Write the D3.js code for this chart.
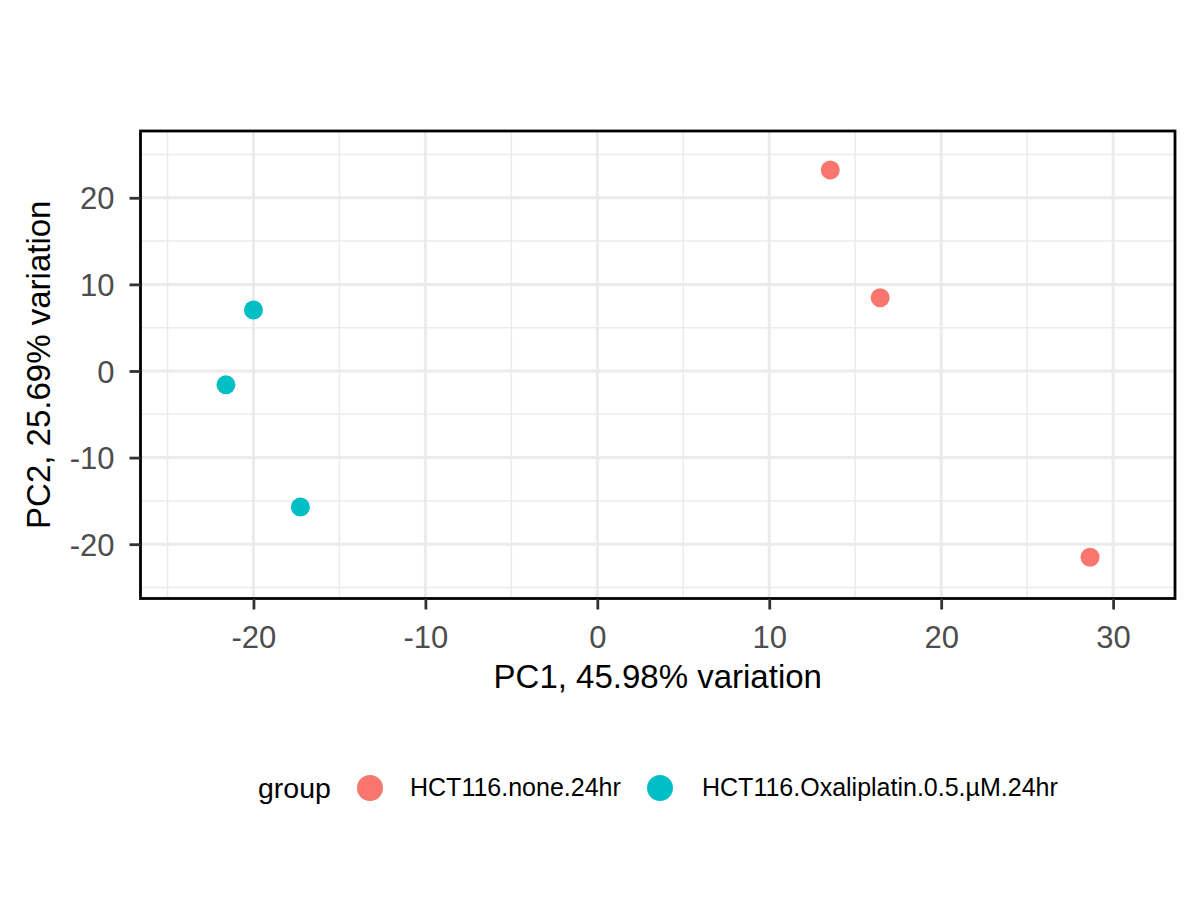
<!DOCTYPE html>
<html lang="en">
<head>
<meta charset="utf-8">
<title>PCA</title>
<script src="https://d3js.org/d3.v7.min.js"></script>
<style>
  body { margin: 0; background: #fff; }
  svg { display: block; font-family: "Liberation Sans", Arial, Helvetica, sans-serif; }
</style>
</head>
<body>
<svg id="chart" width="1200" height="900"></svg>
<script>
// PCA coordinates
var groups = ["HCT116.none.24hr", "HCT116.Oxaliplatin.0.5.\u00b5M.24hr"];
var groupColors = ["#F8766D", "#00BFC4"];
var pc1 = [13.55, 16.45, 28.66, -20.0, -21.6, -17.27];
var pc2 = [23.2, 8.45, -21.5, 7.05, -1.6, -15.7];
var sampleGroup = [0, 0, 0, 1, 1, 1];
var xTicks = [-20, -10, 0, 10, 20, 30];
var yTicks = [-20, -10, 0, 10, 20];
var xMinor = [-25, -15, -5, 5, 15, 25];
var yMinor = [-25, -15, -5, 5, 15, 25];

var svg = d3.select("#chart");
var panel = {left: 140.5, right: 1175, top: 131, bottom: 598.5};

var x = d3.scaleLinear().domain([-26.57, 33.6]).range([panel.left, panel.right]);
var y = d3.scaleLinear().domain([-26.27, 27.71]).range([panel.bottom, panel.top]);

var g = svg.append("g");

// minor grid
g.selectAll(".xminor").data(xMinor).enter().append("line")
  .attr("x1", d => x(d)).attr("x2", d => x(d))
  .attr("y1", panel.top).attr("y2", panel.bottom)
  .attr("stroke", "#ebebeb").attr("stroke-width", 1.5);
g.selectAll(".yminor").data(yMinor).enter().append("line")
  .attr("y1", d => y(d)).attr("y2", d => y(d))
  .attr("x1", panel.left).attr("x2", panel.right)
  .attr("stroke", "#ebebeb").attr("stroke-width", 1.5);

// major grid
g.selectAll(".xmajor").data(xTicks).enter().append("line")
  .attr("x1", d => x(d)).attr("x2", d => x(d))
  .attr("y1", panel.top).attr("y2", panel.bottom)
  .attr("stroke", "#ebebeb").attr("stroke-width", 3);
g.selectAll(".ymajor").data(yTicks).enter().append("line")
  .attr("y1", d => y(d)).attr("y2", d => y(d))
  .attr("x1", panel.left).attr("x2", panel.right)
  .attr("stroke", "#ebebeb").attr("stroke-width", 3);

// points
g.selectAll(".pt").data(pc1).enter().append("circle")
  .attr("cx", (d, i) => x(d))
  .attr("cy", (d, i) => y(pc2[i]))
  .attr("r", 9.5)
  .attr("fill", (d, i) => groupColors[sampleGroup[i]]);

// panel border
g.append("rect")
  .attr("x", panel.left).attr("y", panel.top)
  .attr("width", panel.right - panel.left).attr("height", panel.bottom - panel.top)
  .attr("fill", "none").attr("stroke", "#000").attr("stroke-width", 2.8);

// axes
var xAxis = d3.axisBottom(x).tickValues(xTicks).tickSize(11).tickPadding(16)
  .tickFormat(d => String(d));
var xa = svg.append("g").attr("transform", "translate(0," + panel.bottom + ")").call(xAxis);
var yAxis = d3.axisLeft(y).tickValues(yTicks).tickSize(11).tickPadding(15)
  .tickFormat(d => String(d));
var ya = svg.append("g").attr("transform", "translate(" + panel.left + ",0)").call(yAxis);

[xa, ya].forEach(function (a) {
  a.select(".domain").remove();
  a.selectAll(".tick line").attr("stroke", "#333").attr("stroke-width", 2.8);
  a.selectAll(".tick text").attr("fill", "#4d4d4d").style("font-size", "31px")
    .style("font-family", "'Liberation Sans', Arial, sans-serif");
});
xa.selectAll(".tick text").attr("dy", "0").attr("y", 648 - panel.bottom);
ya.selectAll(".tick text").attr("dy", "0.36em");

// axis titles
svg.append("text")
  .attr("x", (panel.left + panel.right) / 2).attr("y", 688)
  .attr("text-anchor", "middle").style("font-size", "33px").attr("fill", "#000")
  .text("PC1, 45.98% variation");
svg.append("text")
  .attr("transform", "translate(50," + ((panel.top + panel.bottom) / 2) + ") rotate(-90)")
  .attr("text-anchor", "middle").style("font-size", "33px").attr("fill", "#000")
  .text("PC2, 25.69% variation");

// legend
var leg = svg.append("g");
leg.append("text").attr("x", 258).attr("y", 798).style("font-size", "28.5px").attr("fill", "#000").text("group");
var legX = [370, 660];
groups.forEach(function (name, i) {
  leg.append("circle").attr("cx", legX[i]).attr("cy", 788).attr("r", 13).attr("fill", groupColors[i]);
  leg.append("text").attr("x", legX[i] + (i === 0 ? 40 : 42)).attr("y", 796).style("font-size", "25px").attr("fill", "#000").text(name);
});
</script>
</body>
</html>
